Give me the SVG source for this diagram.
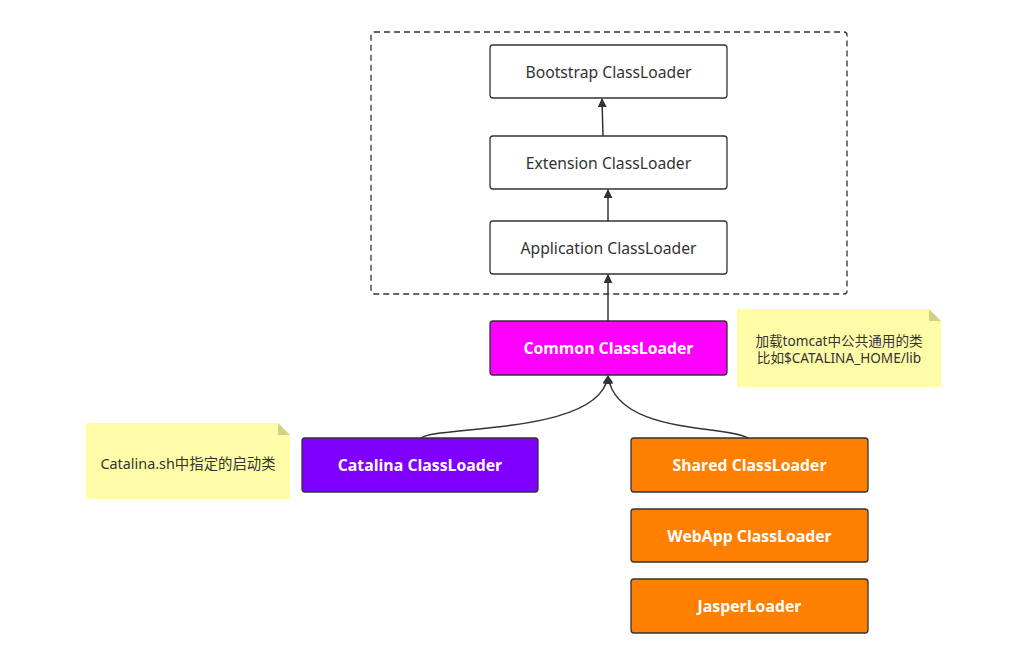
<svg xmlns="http://www.w3.org/2000/svg" width="1032" height="649" viewBox="0 0 1032 649">
<style>
.box{stroke:#333;stroke-width:1.3}
.plain{fill:#fff}
.t{font-family:"Noto Sans","Noto Sans CJK SC",sans-serif;font-size:15.7px;fill:#333;text-anchor:middle;dominant-baseline:central}
.b{font-family:"Open Sans","Noto Sans",sans-serif;font-size:15.8px;font-weight:bold;fill:#fff;text-anchor:middle;dominant-baseline:central}
.n{font-family:"Noto Sans","Noto Sans CJK SC",sans-serif;font-size:13.6px;fill:#333;text-anchor:middle;dominant-baseline:central}
.note{fill:#FFFCA8}
.fold{fill:#D3D08A}
.c{fill:none;stroke:#333;stroke-width:1.5}
</style>
<defs>
<marker id="ah" viewBox="0 0 10 10" refX="9" refY="5" markerWidth="9" markerHeight="9" markerUnits="userSpaceOnUse" orient="auto">
<path d="M0,0 L10,5 L0,10 z" fill="#333"/>
</marker>
</defs>
<rect width="1032" height="649" fill="#fff"/>
<g id="container">
<rect x="371" y="32" width="476" height="262" rx="3" fill="none" stroke="#333" stroke-width="1.3" stroke-dasharray="6,4"/>
</g>
<g id="bootstrap"><rect class="box plain" x="490" y="45" width="237" height="53" rx="3"/><text class="t" x="608.5" y="72">Bootstrap ClassLoader</text></g>
<g id="extension"><rect class="box plain" x="490" y="136" width="237" height="53" rx="3"/><text class="t" x="608.5" y="163">Extension ClassLoader</text></g>
<g id="application"><rect class="box plain" x="490" y="221" width="237" height="53" rx="3"/><text class="t" x="608.5" y="248">Application ClassLoader</text></g>
<g id="common"><rect class="box" fill="#FF00FF" x="490" y="321" width="237" height="54" rx="3"/><text class="b" x="608.5" y="348">Common ClassLoader</text></g>
<g id="catalina"><rect class="box" fill="#7F00FF" x="302" y="438" width="236" height="54" rx="3"/><text class="b" x="420" y="465">Catalina ClassLoader</text></g>
<g id="shared"><rect class="box" fill="#FF8000" x="631" y="438" width="237" height="54" rx="3"/><text class="b" x="749.5" y="465">Shared ClassLoader</text></g>
<g id="webapp"><rect class="box" fill="#FF8000" x="631" y="509" width="237" height="53" rx="3"/><text class="b" x="749.5" y="536">WebApp ClassLoader</text></g>
<g id="jasper"><rect class="box" fill="#FF8000" x="631" y="579" width="237" height="54" rx="3"/><text class="b" x="749.5" y="606">JasperLoader</text></g>
<g id="note-common">
<path class="note" d="M737,309 H929 L941,321 V387 H737 Z"/>
<path class="fold" d="M929,309 L941,321 H929 Z"/>
<text class="n" x="839" y="340">加载tomcat中公共通用的类</text>
<text class="n" x="839" y="357">比如$CATALINA_HOME/lib</text>
</g>
<g id="note-catalina">
<path class="note" d="M86,423 H278 L290,435 V499 H86 Z"/>
<path class="fold" d="M278,423 L290,435 H278 Z"/>
<text class="n" x="188" y="463" style="font-size:14.4px">Catalina.sh中指定的启动类</text>
</g>
<g id="connectors">
<path class="c" d="M603,136 L602,99" marker-end="url(#ah)"/>
<path class="c" d="M608,221 L608,190" marker-end="url(#ah)"/>
<path class="c" d="M608,321 L608,275" marker-end="url(#ah)"/>
<path class="c" d="M421,438 C440,425 600,435 608,376" marker-end="url(#ah)"/>
<path class="c" d="M748,438 C728,425 616,435 608,376" marker-end="url(#ah)"/>
</g>
</svg>
